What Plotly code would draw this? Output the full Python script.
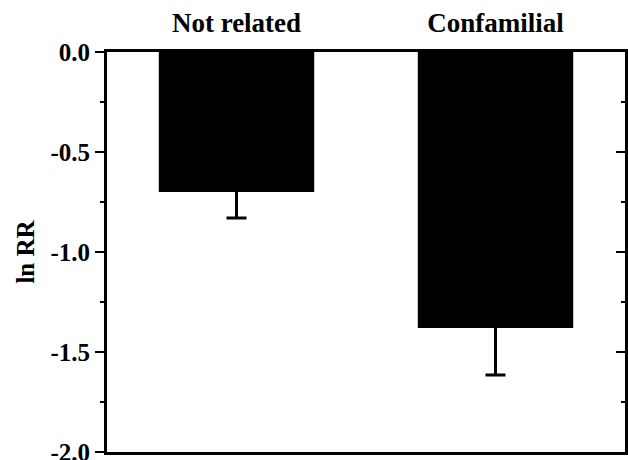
import plotly.graph_objects as go

categories = ["Not related", "Confamilial"]
ln_rr = [-0.70, -1.38]
err = [0.13, 0.235]
tick_vals = [0.0, -0.5, -1.0, -1.5, -2.0]
tick_text = ["0.0", "-0.5", "-1.0", "-1.5", "-2.0"]

font_family = "Liberation Serif"

fig = go.Figure()
fig.add_trace(go.Bar(
    x=categories, y=ln_rr, width=0.6,
    marker=dict(color="black", line=dict(width=0)),
    error_y=dict(type="data", array=err, color="black", thickness=3, width=10),
))
# invisible trace to carry the right-hand (inward-ticked) axis
fig.add_trace(go.Scatter(x=categories, y=ln_rr, yaxis="y2", mode="markers",
                         marker=dict(opacity=0), hoverinfo="skip", showlegend=False))

fig.update_layout(
    width=628, height=460,
    margin=dict(l=107, r=3, t=52, b=8),
    plot_bgcolor="white", paper_bgcolor="white",
    showlegend=False,
    font=dict(family=font_family, color="black", size=18),
    xaxis=dict(side="top", showline=True, linecolor="black", linewidth=3, mirror=True,
               ticks="", ticklabelstandoff=6, automargin=False,
               tickfont=dict(family=font_family, size=27, weight="bold"),
               showgrid=False),
    yaxis=dict(range=[-2.0, 0.0], tickvals=tick_vals, ticktext=tick_text,
               showline=True, linecolor="black", linewidth=3,
               ticks="outside", ticklen=9, tickwidth=2, tickcolor="black",
               minor=dict(dtick=0.25, ticks="outside", ticklen=4, tickwidth=2, tickcolor="black"),
               tickfont=dict(family=font_family, size=25, weight="bold"),
               ticklabeloverflow="allow",
               showgrid=False, zeroline=False, automargin=False,
               title=dict(text="ln RR", font=dict(family=font_family, size=25, weight="bold"), standoff=9)),
    yaxis2=dict(range=[-2.0, 0.0], overlaying="y", side="right", tickvals=tick_vals,
                showticklabels=False, showline=True, linecolor="black", linewidth=3,
                ticks="inside", ticklen=9, tickwidth=2, tickcolor="black",
                minor=dict(dtick=0.25, ticks="inside", ticklen=4, tickwidth=2, tickcolor="black"),
                showgrid=False, zeroline=False, automargin=False),
)

fig.write_html("out.html", config={"displayModeBar": False},
               post_script="document.body.style.margin='0';document.body.style.overflow='hidden';")
